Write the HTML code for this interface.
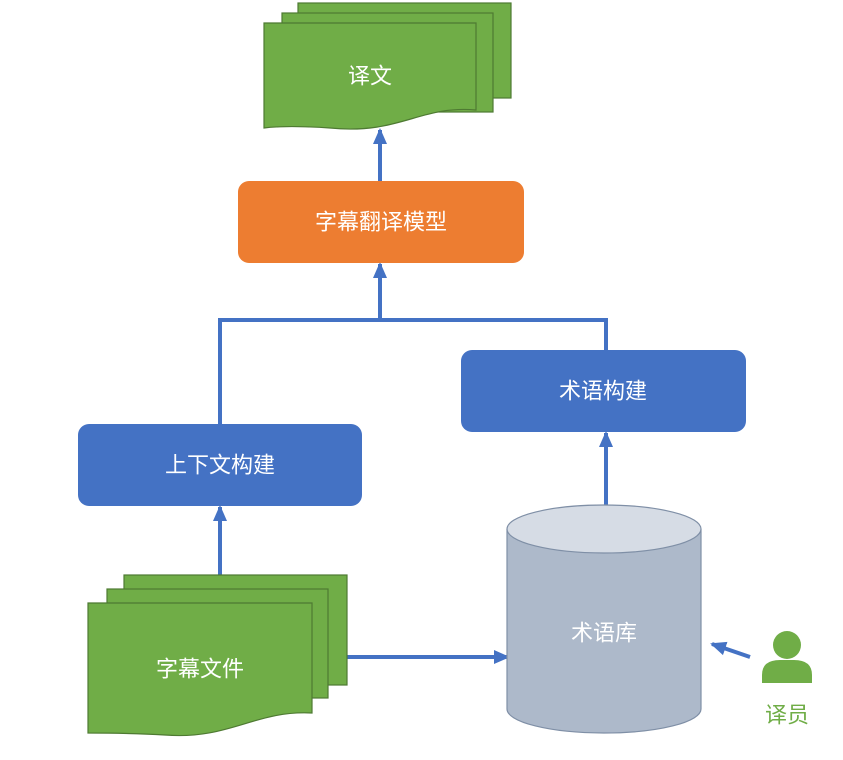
<!DOCTYPE html>
<html><head><meta charset="utf-8"><style>
body{margin:0;background:#fff;width:843px;height:755px;overflow:hidden}
text{font-family:"Liberation Sans","Noto Sans CJK SC",sans-serif}
</style></head><body>
<svg width="843" height="755" viewBox="0 0 843 755" xmlns="http://www.w3.org/2000/svg">
<defs><marker id="a" markerWidth="10" markerHeight="10" refX="8" refY="5" orient="auto" markerUnits="userSpaceOnUse" viewBox="0 0 10 10"><path d="M0,0 L10,5 L0,10 z" fill="#4472c4"/></marker>
<marker id="b" markerWidth="16" markerHeight="16" refX="14" refY="8" orient="auto" markerUnits="userSpaceOnUse" viewBox="0 0 16 16"><path d="M0,1 L16,8 L0,15 z" fill="#4472c4"/></marker></defs>
<g stroke="#4472c4" stroke-width="4" fill="none">
<path d="M380 181 V130" marker-end="url(#b)"/>
<path d="M380 320 V264" marker-end="url(#b)"/>
<path d="M220 424 V320 H606 V350"/>
<path d="M606 505 V433" marker-end="url(#b)"/>
<path d="M220 575 V507" marker-end="url(#b)"/>
<path d="M347 657 H508" marker-end="url(#b)"/>
<path d="M750 657 L712 644" marker-end="url(#b)"/>
</g>
<g fill="#70ad47" stroke="#4e7a32" stroke-width="1.2">
<rect x="298" y="3" width="213" height="95"/>
<rect x="282" y="13" width="211" height="99"/>
<path d="M264 23 H476 V110 C420 105 400 135 330 128 C300 126 280 126 264 128 Z"/>
<rect x="124" y="575" width="223" height="110"/>
<rect x="107" y="589" width="221" height="109"/>
<path d="M88 603 H312 V713 C255 710 230 740 165 735 C130 733 105 733 88 733 Z"/>
</g>
<rect x="238" y="181" width="286" height="82" rx="11" fill="#ed7d31"/>
<rect x="461" y="350" width="285" height="82" rx="11" fill="#4472c4"/>
<rect x="78" y="424" width="284" height="82" rx="11" fill="#4472c4"/>
<path d="M507 529 V709 A97 24 0 0 0 701 709 V529" fill="#adb9ca" stroke="#7f8fa6" stroke-width="1.2"/>
<ellipse cx="604" cy="529" rx="97" ry="24" fill="#d6dce5" stroke="#7f8fa6" stroke-width="1.2"/>
<circle cx="787" cy="645" r="14" fill="#70ad47"/>
<path d="M762 683 V675 Q762 660 780 660 H794 Q812 660 812 675 V683 Z" fill="#70ad47"/>
<g fill="#fff" font-size="22" text-anchor="middle" dominant-baseline="central">
<text x="370" y="76">译文</text>
<text x="381" y="222">字幕翻译模型</text>
<text x="603" y="391">术语构建</text>
<text x="220" y="465">上下文构建</text>
<text x="200" y="669">字幕文件</text>
<text x="604" y="633">术语库</text>
</g>
<text x="787" y="715" font-size="22" fill="#70ad47" text-anchor="middle" dominant-baseline="central">译员</text>
</svg>
</body></html>
